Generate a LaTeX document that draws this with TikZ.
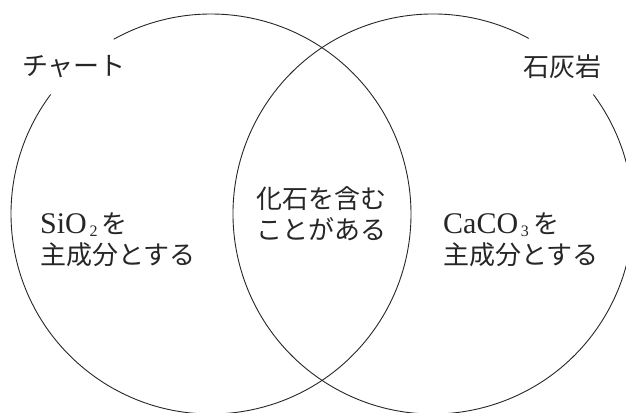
\documentclass[tikz,border=0pt]{standalone}
\usepackage{fontspec}
\setmainfont{Liberation Serif}
\newfontfamily\jpfont{Noto Sans CJK JP}
\newcommand{\chem}[2]{{\rmfamily\fontsize{30}{31}\selectfont #1}\raisebox{-3pt}{\rmfamily\fontsize{16}{16}\selectfont\,#2}\,}
\tikzset{
    venn-ring/.style = {draw=black!85, line width=0.9pt},
    venn-label/.style = {inner sep=0pt, font=\jpfont\fontsize{26}{31}\selectfont, text=black!85},
    venn-text/.style = {venn-label, align=left},
}

\begin{document}
\begin{tikzpicture}[x=1pt,y=1pt]
\useasboundingbox (0,0) rectangle (626,412);
\clip (0,0) rectangle (626,412);
\coordinate (chert) at (211,198);
\coordinate (lime) at (433,198);
\draw[venn-ring] ([shift={(143.3:200)}]chert) arc[start angle=143.3, end angle=479.1, radius=200];
\draw[venn-ring] ([shift={(61.4:200)}]lime) arc[start angle=61.4, end angle=396.7, radius=200];
\node[venn-label] (chert-name) at (74,345) {チャート};
\node[venn-label] (lime-name) at (562,345) {石灰岩};
\node[venn-text, anchor=west] (chert-main) at (40,172) {\chem{SiO}{2}を\\主成分とする};
\node[venn-text, align=center] (both) at (321,198) {化石を含む\\ことがある};
\node[venn-text, anchor=west] (lime-main) at (443,172) {\chem{CaCO}{3}を\\主成分とする};
\end{tikzpicture}
\end{document}
